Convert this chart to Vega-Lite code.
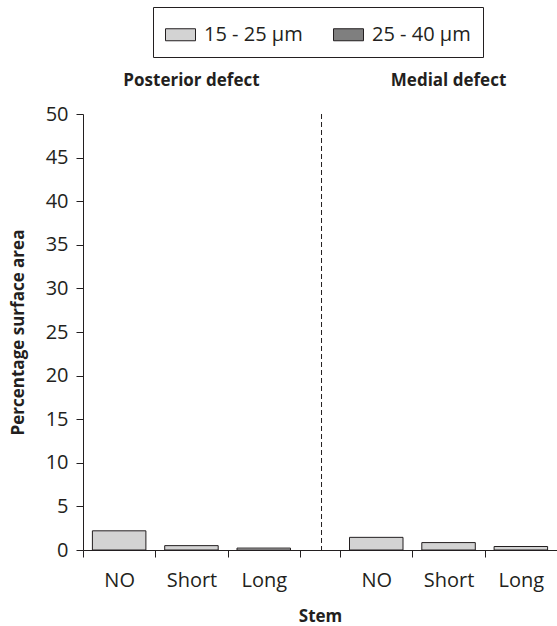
{
  "$schema": "https://vega.github.io/schema/vega-lite/v6.json",
  "width": 474,
  "height": 436,
  "autosize": {"type": "none"},
  "padding": {"left": 83, "top": 114, "right": 0, "bottom": 76},
  "background": "white",
  "config": {
    "view": {"stroke": null},
    "font": "Open Sans",
    "axis": {
      "grid": false,
      "domainColor": "#231f20",
      "tickColor": "#231f20",
      "labelColor": "#231f20",
      "titleColor": "#231f20",
      "labelFont": "Open Sans",
      "titleFont": "Open Sans",
      "labelFontSize": 20,
      "titleFontSize": 17,
      "titleFontWeight": "bold",
      "domainWidth": 1,
      "tickWidth": 1
    },
    "legend": {
      "labelFont": "Open Sans",
      "labelColor": "#231f20"
    }
  },
  "data": {
    "values": [
      {"defect": "Posterior defect", "stem": "NO", "size": "15 - 25 µm", "value": 2.2},
      {"defect": "Posterior defect", "stem": "Short", "size": "15 - 25 µm", "value": 0.5},
      {"defect": "Posterior defect", "stem": "Long", "size": "15 - 25 µm", "value": 0.22},
      {"defect": "Medial defect", "stem": "NO", "size": "15 - 25 µm", "value": 1.45},
      {"defect": "Medial defect", "stem": "Short", "size": "15 - 25 µm", "value": 0.85},
      {"defect": "Medial defect", "stem": "Long", "size": "15 - 25 µm", "value": 0.4}
    ]
  },
  "layer": [
    {
      "mark": {"type": "bar", "stroke": "#231f20", "strokeWidth": 1},
      "encoding": {
        "x": {
          "field": "defect",
          "type": "nominal",
          "sort": ["Posterior defect", "Medial defect"],
          "scale": {"domain": ["Posterior defect", "Medial defect"], "paddingInner": 0.1564, "paddingOuter": 0},
          "axis": {
            "orient": "top",
            "title": null,
            "domain": false,
            "ticks": false,
            "labelAngle": 0,
            "labelFontWeight": "bold",
            "labelFontSize": 17,
            "labelPadding": 25
          }
        },
        "xOffset": {
          "field": "stem",
          "type": "nominal",
          "sort": ["NO", "Short", "Long"],
          "scale": {"domain": ["NO", "Short", "Long"], "paddingInner": 0.26, "paddingOuter": 0.13}
        },
        "y": {
          "field": "value",
          "type": "quantitative",
          "scale": {"domain": [0, 50], "nice": false},
          "axis": {
            "title": "Percentage surface area",
            "tickCount": 10,
            "tickSize": 7,
            "labelPadding": 8,
            "titlePadding": 18
          }
        },
        "color": {
          "field": "size",
          "type": "nominal",
          "scale": {"domain": ["15 - 25 µm", "25 - 40 µm"], "range": ["#d3d3d3", "#7f7f7f"]},
          "legend": {
            "title": null,
            "orient": "none",
            "legendX": 70,
            "legendY": -107,
            "direction": "horizontal",
            "strokeColor": "#231f20",
            "padding": 12,
            "symbolType": "M-1,-0.4H1V0.4H-1Z",
            "symbolSize": 900,
            "symbolStrokeColor": "#231f20",
            "symbolStrokeWidth": 1,
            "symbolOpacity": 1,
            "labelFontSize": 20,
            "labelOffset": 8,
            "columnPadding": 28
          }
        }
      }
    },
    {
      "data": {"values": [{"divider": "Posterior | Medial"}]},
      "mark": {"type": "rule", "strokeDash": [5, 3], "color": "#231f20", "strokeWidth": 1},
      "encoding": {
        "x": {
          "datum": 3.299,
          "type": "quantitative",
          "scale": {"domain": [0, 6.556], "nice": false, "zero": false},
          "axis": {
            "orient": "bottom",
            "title": "Stem",
            "values": [0, 1, 2, 3, 3.556, 4.556, 5.556],
            "labelExpr": "datum.value == 0 || datum.value == 3.556 ? 'NO' : (datum.value == 1 || datum.value == 4.556 ? 'Short' : (datum.value == 2 || datum.value == 5.556 ? 'Long' : ''))",
            "labelOffset": 36.15,
            "labelFlush": false,
            "labelOverlap": false,
            "tickSize": 7,
            "labelPadding": 13,
            "titlePadding": 18
          }
        }
      }
    }
  ],
  "resolve": {"scale": {"x": "independent"}}
}
